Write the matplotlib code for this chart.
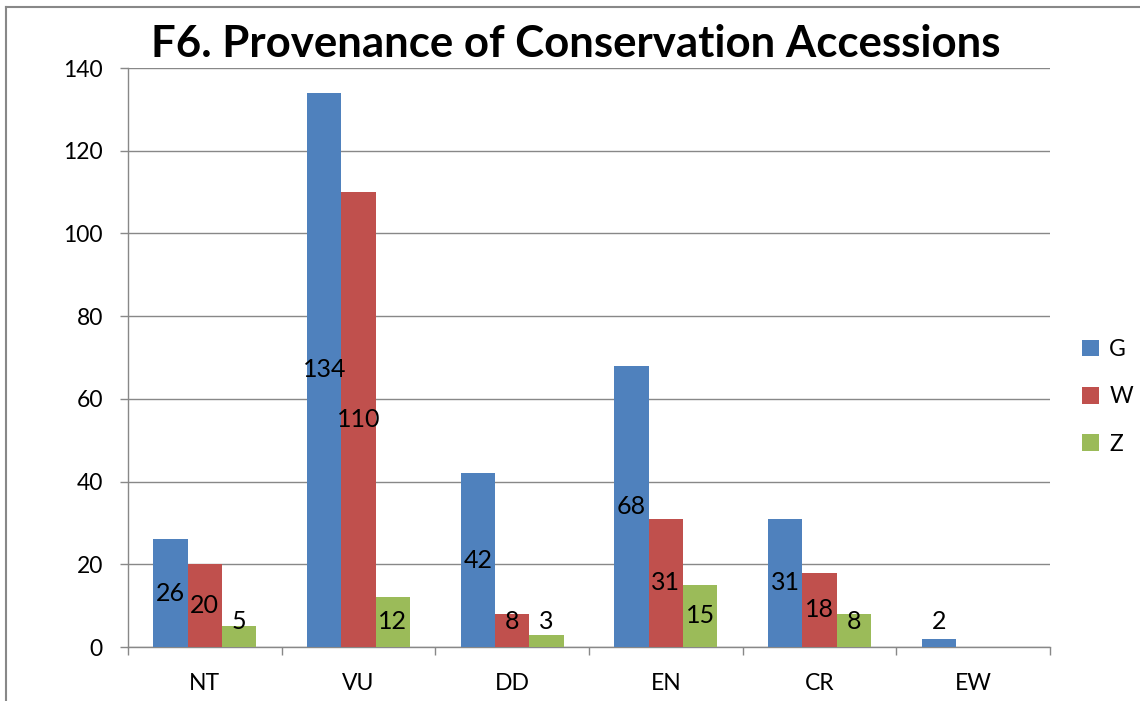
import matplotlib
matplotlib.use("Agg")
import matplotlib.pyplot as plt
import numpy as np
from matplotlib.lines import Line2D

plt.rcParams['font.family'] = ['Lato', 'DejaVu Sans']

categories = ["NT", "VU", "DD", "EN", "CR", "EW"]
series_names = ["G", "W", "Z"]
g_vals = [26, 134, 42, 68, 31, 2]
w_vals = [20, 110, 8, 31, 18, 0]
z_vals = [5, 12, 3, 15, 8, 0]
colors = ["#4F81BD", "#C0504D", "#9BBB59"]

fig = plt.figure(figsize=(11.4, 7.01), dpi=100)
ax = fig.add_axes([128/1140, 1-647/701, (1050-128)/1140, (647-68)/701])

x = np.arange(len(categories))
width = 0.223
all_vals = [g_vals, w_vals, z_vals]
for i, (name, vals, c) in enumerate(zip(series_names, all_vals, colors)):
    pos = x + (i - 1) * width
    ax.bar(pos, vals, width, color=c, label=name, zorder=3)
    for p, v in zip(pos, vals):
        if v == 0:
            continue
        ax.text(p, max(v / 2, 6.2), str(v), ha='center', va='center',
                fontsize=18, zorder=4)

ax.set_xlim(-0.5, len(categories) - 0.5)
ax.set_ylim(0, 140)
ax.set_yticks(range(0, 141, 20))
ax.yaxis.grid(True, color='#888888', linewidth=1.0, zorder=0)
ax.set_axisbelow(True)

ax.set_xticks(x)
ax.set_xticklabels(categories, fontsize=16.5)
ax.set_xticks(np.arange(-0.5, len(categories)), minor=True)
ax.tick_params(axis='x', which='major', length=0, pad=19)
ax.tick_params(axis='x', which='minor', length=6, width=1.0, color='#888888')
ax.tick_params(axis='y', length=6, width=1.0, color='#888888', labelsize=16.5, pad=12)

for s in ['top', 'right']:
    ax.spines[s].set_visible(False)
for s in ['left', 'bottom']:
    ax.spines[s].set_color('#888888')
    ax.spines[s].set_linewidth(1.0)

fig.text(576/1140, 1-44/701, "F6. Provenance of Conservation Accessions",
         ha='center', va='center', fontsize=31.5, fontweight='bold')

leg = ax.legend(loc='center left', bbox_to_anchor=(1.012, 0.432), frameon=False,
                fontsize=16.5, handlelength=0.75, handleheight=0.75,
                labelspacing=1.15, handletextpad=0.45)

# chart outer border
fig.add_artist(Line2D([6/1140, 6/1140], [0, 1-7/701], transform=fig.transFigure,
                      color='#888888', linewidth=1.5))
fig.add_artist(Line2D([6/1140, 1], [1-7/701, 1-7/701], transform=fig.transFigure,
                      color='#888888', linewidth=1.5))

fig.savefig("out.png", dpi=100)
